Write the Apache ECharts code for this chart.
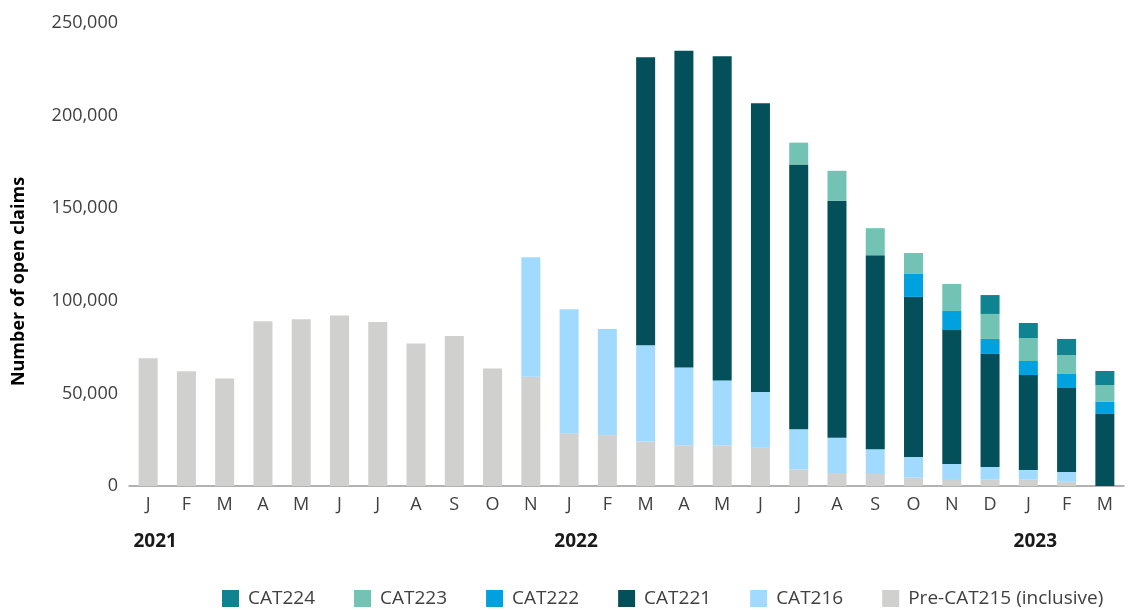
<!DOCTYPE html>
<html>
<head>
<meta charset="utf-8">
<script src="https://cdn.jsdelivr.net/npm/echarts@6/dist/echarts.min.js"></script>
<style>
  html, body { margin: 0; padding: 0; background: #fff; }
  #chart { width: 1135px; height: 610px; }
</style>
</head>
<body>
<div id="chart"></div>
<script>
// 月份（2021年1月–11月，2022年全年，2023年1月–3月）
const months = ['J','F','M','A','M','J','J','A','S','O','N',
  'J','F','M','A','M','J','J','A','S','O','N','D',
  'J','F','M'];
const yearLabels = ['2021', '2022', '2023'];
const yearStart = [0, 11, 23];

// 各系列数据（单位：件）
const preCat215 = [69000, 62000, 58000, 89000, 90000, 92000, 88500, 77000, 81000, 63500, 59000,
  28500, 27500, 24000, 22000, 22000, 21000, 9000, 7000, 6500, 4500, 3800, 3400, 3400, 2300, 0];
const cat216 = [0, 0, 0, 0, 0, 0, 0, 0, 0, 0, 64500,
  67000, 57300, 52000, 42000, 35000, 29700, 21600, 19000, 13400, 11200, 8100, 6900, 5200, 5300, 0];
const cat221 = [0, 0, 0, 0, 0, 0, 0, 0, 0, 0, 0,
  0, 0, 155500, 171000, 175000, 156000, 143000, 128000, 104700, 86400, 72300, 61000, 51300, 45300, 38900];
const cat222 = [0, 0, 0, 0, 0, 0, 0, 0, 0, 0, 0,
  0, 0, 0, 0, 0, 0, 0, 0, 0, 12400, 10300, 8100, 7600, 7600, 6500];
const cat223 = [0, 0, 0, 0, 0, 0, 0, 0, 0, 0, 0,
  0, 0, 0, 0, 0, 0, 11800, 16200, 14600, 11300, 14600, 13500, 12400, 10200, 9100];
const cat224 = [0, 0, 0, 0, 0, 0, 0, 0, 0, 0, 0,
  0, 0, 0, 0, 0, 0, 0, 0, 0, 0, 0, 10200, 8100, 8700, 7600];

const yearAxisData = months.map((m, i) => {
  const k = yearStart.indexOf(i);
  return k >= 0 ? yearLabels[k] : '';
});

const FONT = '"Open Sans", "Noto Sans", sans-serif';
const chart = echarts.init(document.getElementById('chart'));

function bar(name, data, color) {
  return {
    name: name,
    type: 'bar',
    stack: 'total',
    barWidth: 19,
    data: data,
    itemStyle: { color: color },
    emphasis: { disabled: true }
  };
}

const option = {
  animation: false,
  textStyle: { fontFamily: FONT },
  grid: { left: 129, right: 11, top: 23, bottom: 124, containLabel: false },
  legend: {
    left: 222,
    top: 589,
    padding: 0,
    itemWidth: 17,
    itemHeight: 17,
    itemGap: 39,
    icon: 'rect',
    textStyle: { fontFamily: FONT, fontSize: 19, color: '#404040', padding: [0, 0, 0, 4] },
    data: ['CAT224', 'CAT223', 'CAT222', 'CAT221', 'CAT216', 'Pre-CAT215 (inclusive)']
  },
  xAxis: [
    {
      type: 'category',
      data: months,
      axisLine: { lineStyle: { color: '#999999', width: 1.5 } },
      axisTick: { show: false },
      axisLabel: { interval: 0, fontSize: 18, color: '#404040', fontFamily: FONT, margin: 10 }
    },
    {
      type: 'category',
      data: yearAxisData,
      position: 'bottom',
      offset: 40,
      axisLine: { show: false },
      axisTick: { show: false },
      axisLabel: {
        interval: 0, fontSize: 19, fontWeight: 'bold', color: '#1a1a1a', fontFamily: FONT, margin: 6,
        padding: [0, 0, 0, 14]
      }
    }
  ],
  yAxis: {
    type: 'value',
    min: 0,
    max: 250000,
    interval: 50000,
    name: 'Number of open claims',
    nameLocation: 'middle',
    nameGap: 101,
    nameTextStyle: { fontSize: 18, fontWeight: 'bold', color: '#000', fontFamily: FONT, padding: [0, 54, 0, 0] },
    axisLine: { show: false },
    axisTick: { show: false },
    splitLine: { show: false },
    axisLabel: {
      fontSize: 18,
      color: '#404040',
      fontFamily: FONT,
      margin: 11,
      padding: [6, 0, 0, 0],
      formatter: v => v.toLocaleString('en-US')
    }
  },
  series: [
    bar('Pre-CAT215 (inclusive)', preCat215, '#d0d0cf'),
    bar('CAT216', cat216, '#a0dbff'),
    bar('CAT221', cat221, '#03505a'),
    bar('CAT222', cat222, '#00a1df'),
    bar('CAT223', cat223, '#72c3b4'),
    bar('CAT224', cat224, '#0f8390')
  ]
};

chart.setOption(option);
</script>
</body>
</html>
